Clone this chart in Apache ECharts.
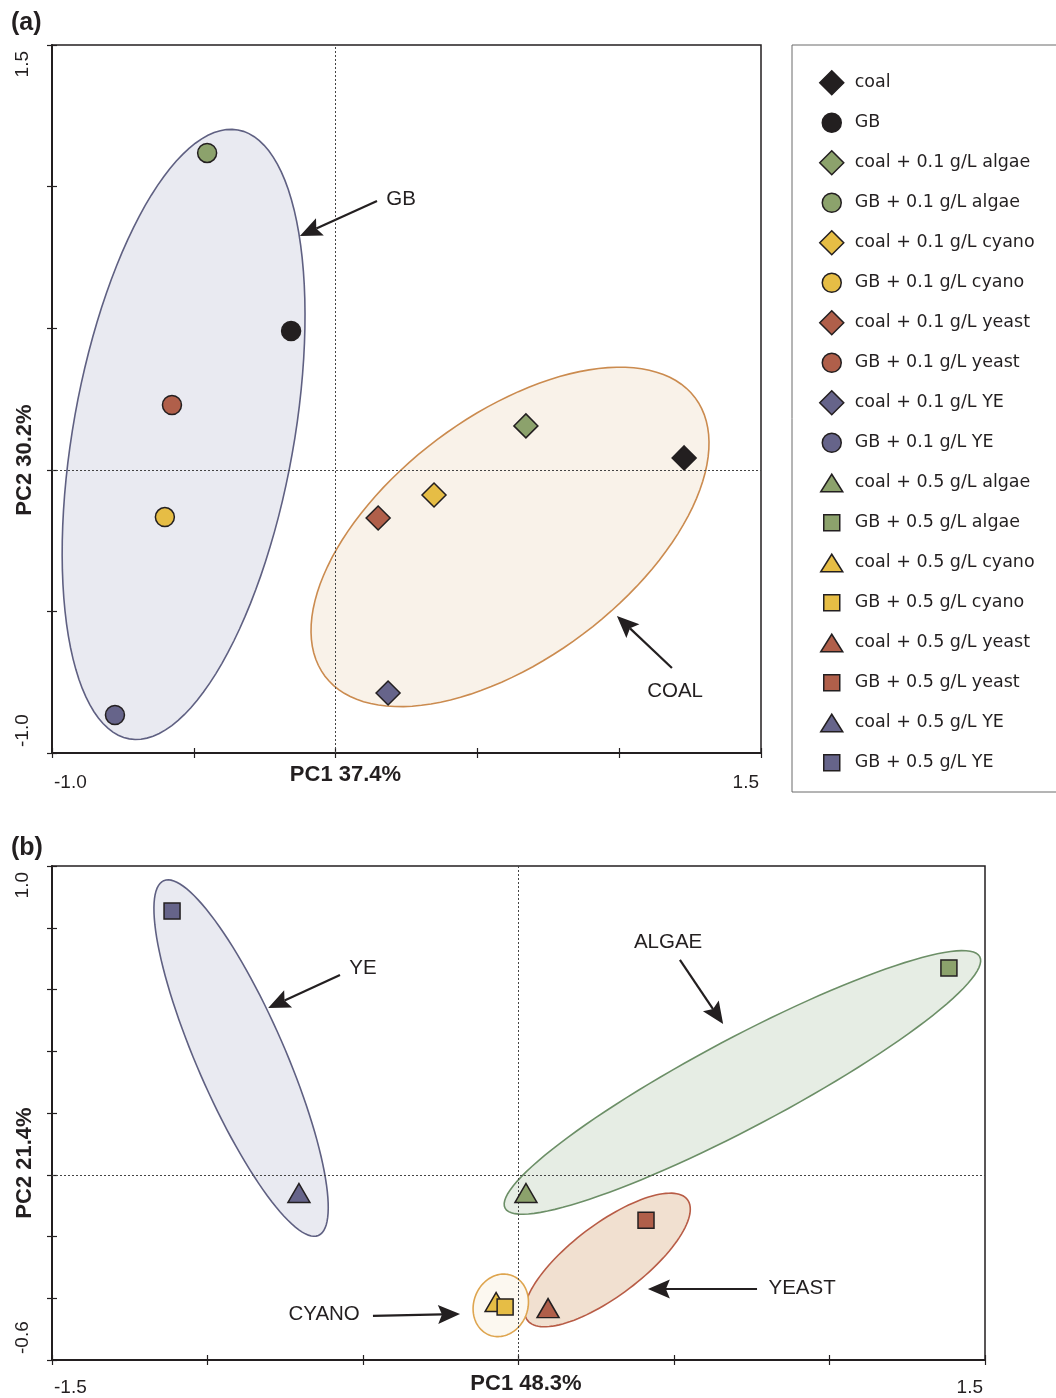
<!DOCTYPE html>
<html><head><meta charset="utf-8">
<script src="https://cdn.jsdelivr.net/npm/echarts@6/dist/echarts.min.js"></script>
<style>html,body{margin:0;padding:0;background:#fff}#c{width:1056px;height:1398px}</style>
</head><body><div id="c"></div>
<script>
// ---------------- DATA ----------------
// Panel (a): 0.1 g/L amendments
const seriesNamesA = ['coal','GB','coal + 0.1 g/L algae','GB + 0.1 g/L algae','coal + 0.1 g/L cyano','GB + 0.1 g/L cyano','coal + 0.1 g/L yeast','GB + 0.1 g/L yeast','coal + 0.1 g/L YE','GB + 0.1 g/L YE'];
const pc1A = [1.229, -0.157, 0.671, -0.453, 0.347, -0.602, 0.150, -0.577, 0.185, -0.778];
const pc2A = [0.042, 0.490, 0.155, 1.119, -0.089, -0.167, -0.170, 0.229, -0.788, -0.866];
// Panel (b): 0.5 g/L amendments
const seriesNamesB = ['coal + 0.5 g/L algae','GB + 0.5 g/L algae','coal + 0.5 g/L cyano','GB + 0.5 g/L cyano','coal + 0.5 g/L yeast','GB + 0.5 g/L yeast','coal + 0.5 g/L YE','GB + 0.5 g/L YE'];
const pc1B = [0.024, 1.384, -0.072, -0.043, 0.095, 0.410, -0.706, -1.114];
const pc2B = [-0.059, 0.670, -0.412, -0.428, -0.432, -0.147, -0.059, 0.854];
// legend order
const legendOrder = ['coal','GB','coal + 0.1 g/L algae','GB + 0.1 g/L algae','coal + 0.1 g/L cyano','GB + 0.1 g/L cyano','coal + 0.1 g/L yeast','GB + 0.1 g/L yeast','coal + 0.1 g/L YE','GB + 0.1 g/L YE','coal + 0.5 g/L algae','GB + 0.5 g/L algae','coal + 0.5 g/L cyano','GB + 0.5 g/L cyano','coal + 0.5 g/L yeast','GB + 0.5 g/L yeast','coal + 0.5 g/L YE','GB + 0.5 g/L YE'];
// axis ticks / labels
const xTicksA = ['-1.0','','','','','1.5'];
const yTicksA = ['-1.0','','','','','1.5'];
const xTicksB = ['-1.5','','','','','','1.5'];
const yTicksB = ['-0.6','','','','','','','','1.0'];
const axisTitlesA = ['PC1 37.4%','PC2 30.2%'];
const axisTitlesB = ['PC1 48.3%','PC2 21.4%'];
// group ellipses (data units): name, centre x, centre y, semi-axis a, semi-axis b, angle (deg)
const ellNamesA = ['GB','COAL'];
const ellCxA = [-0.536, 0.615];
const ellCyA = [0.125, -0.237];
const ellAA = [1.092, 0.817];
const ellBA = [0.389, 0.429];
const ellAngA = [79.9, 37.0];
const ellNamesB = ['YE','ALGAE','YEAST','CYANO'];
const ellCxB = [-0.892, 0.720, 0.286, -0.057];
const ellCyB = [0.378, 0.299, -0.276, -0.423];
const ellAB = [0.626, 0.865, 0.323, 0.103];
const ellBB = [0.141, 0.1445, 0.116, 0.087];
const ellAngB = [113.4, 28.1, 37.3, 70];
// annotation labels and arrows (data units)
const annTextA = ['GB','COAL'];
const annXA = [0.231, 1.197];
const annYA = [0.956, -0.781];
const arrA = [[0.146, 0.949, -0.126, 0.826], [1.186, -0.700, 0.992, -0.516]];
const annTextB = ['YE','ALGAE','YEAST','CYANO'];
const annXB = [-0.500, 0.481, 0.912, -0.625];
const annYB = [0.670, 0.754, -0.367, -0.451];
const arrB = [[-0.574, 0.647, -0.805, 0.540], [0.519, 0.696, 0.658, 0.488], [0.767, -0.370, 0.416, -0.370], [-0.468, -0.457, -0.188, -0.451]];

// ---------------- STYLE ----------------
const INK = '#231f20';
function colorOf(n) {
  if (n.indexOf('algae') >= 0) return '#8ca26c';
  if (n.indexOf('cyano') >= 0) return '#e6bd45';
  if (n.indexOf('yeast') >= 0) return '#b05f4a';
  if (/YE$/.test(n)) return '#66648a';
  return INK;
}
function symbolOf(n) {
  const half = n.indexOf('0.5') >= 0;
  const coal = n.indexOf('coal') === 0;
  if (half) return coal ? {symbol: 'triangle', size: [22, 19]} : {symbol: 'rect', size: 16};
  return coal ? {symbol: 'diamond', size: 24} : {symbol: 'circle', size: 19};
}
function legendIcon(n) {
  const half = n.indexOf('0.5') >= 0;
  const coal = n.indexOf('coal') === 0;
  const box = 'path://M0,0M30,24';
  if (half) return coal ? box + 'M12,3.5L23,21L1,21Z' : box + 'M4,4L20,4L20,20L4,20Z';
  return coal ? box + 'M12,0L24,12L12,24L0,12Z' : box + 'M2.5,12A9.5,9.5 0 1 1 21.5,12A9.5,9.5 0 1 1 2.5,12Z';
}
const ellStyle = {
  GB: {fill: '#e9eaf1', stroke: '#5f6082'},
  COAL: {fill: '#f9f2e9', stroke: '#cb8b4f'},
  YE: {fill: '#e9eaf1', stroke: '#5f6082'},
  ALGAE: {fill: '#e6ede4', stroke: '#6c8f67'},
  YEAST: {fill: '#f1e0d0', stroke: '#b85c46'},
  CYANO: {fill: '#fcf8f0', stroke: '#dea54f'}
};
const FONT = '"Liberation Sans", Arial, sans-serif';

// ---------------- BUILD ----------------
function scatter(name, x, y, gi) {
  const s = symbolOf(name);
  return {type: 'scatter', name, xAxisIndex: gi * 2, yAxisIndex: gi * 2, data: [[x, y]],
    symbol: s.symbol, symbolSize: s.size, z: 5, silent: true, animation: false,
    itemStyle: {color: colorOf(name), borderColor: INK, borderWidth: 1.5, opacity: 1}};
}
function ellipseSeries(gi, names, cx, cy, a, b, ang) {
  return {type: 'custom', xAxisIndex: gi * 2, yAxisIndex: gi * 2, z: 1, silent: true, animation: false,
    data: cx.map((c, i) => [c, cy[i], a[i], b[i], ang[i]]),
    encode: {x: 0, y: 1},
    renderItem(params, api) {
      const X = api.value(0), Y = api.value(1), A = api.value(2), B = api.value(3), t0 = api.value(4) * Math.PI / 180;
      const pts = [];
      for (let k = 0; k < 120; k++) {
        const t = k / 120 * 2 * Math.PI;
        const dx = A * Math.cos(t), dy = B * Math.sin(t);
        pts.push(api.coord([X + dx * Math.cos(t0) - dy * Math.sin(t0), Y + dx * Math.sin(t0) + dy * Math.cos(t0)]));
      }
      const st = ellStyle[names[params.dataIndex]];
      return {type: 'polygon', shape: {points: pts}, style: {fill: st.fill, stroke: st.stroke, lineWidth: 1.6}};
    }};
}
function arrowSeries(gi, arr) {
  return {type: 'custom', xAxisIndex: gi * 2, yAxisIndex: gi * 2, z: 6, silent: true, animation: false,
    data: arr, encode: {x: [0, 2], y: [1, 3]},
    renderItem(params, api) {
      const p1 = api.coord([api.value(0), api.value(1)]), p2 = api.coord([api.value(2), api.value(3)]);
      const dx = p2[0] - p1[0], dy = p2[1] - p1[1], L = Math.hypot(dx, dy), ux = dx / L, uy = dy / L;
      const hl = 22, hw = 9.5;
      const bx = p2[0] - ux * hl, by = p2[1] - uy * hl;
      const nx = p2[0] - ux * hl * 0.82, ny = p2[1] - uy * hl * 0.82;
      return {type: 'group', children: [
        {type: 'line', shape: {x1: p1[0], y1: p1[1], x2: nx, y2: ny}, style: {stroke: INK, lineWidth: 2.2}},
        {type: 'polygon', shape: {points: [p2, [bx - uy * hw, by + ux * hw], [nx, ny], [bx + uy * hw, by - ux * hw]]}, style: {fill: INK}}
      ]};
    }};
}
function textSeries(gi, xs, ys, texts) {
  return {type: 'custom', xAxisIndex: gi * 2, yAxisIndex: gi * 2, z: 6, silent: true, animation: false,
    data: xs.map((x, i) => [x, ys[i]]), encode: {x: 0, y: 1},
    renderItem(params, api) {
      const p = api.coord([api.value(0), api.value(1)]);
      return {type: 'text', x: p[0], y: p[1], style: {text: texts[params.dataIndex], font: '20.5px ' + FONT, fill: INK, align: 'center', verticalAlign: 'middle'}};
    }};
}
function zeroLines(gi) {
  return {type: 'scatter', xAxisIndex: gi * 2, yAxisIndex: gi * 2, data: [], z: 3, silent: true, animation: false,
    markLine: {silent: true, animation: false, symbol: ['none', 'none'], label: {show: false},
      lineStyle: {color: '#444', width: 1, type: [2, 2]},
      emphasis: {disabled: true},
      data: [{xAxis: 0}, {yAxis: 0}]}};
}
function fmt(labels, min, interval) {
  return v => { const i = Math.round((v - min) / interval); return labels[i] || ''; };
}
function xMain(gi, min, max, interval, labels, title, pad, gap, margin) {
  return {type: 'value', gridIndex: gi, min, max, interval, position: 'bottom',
    axisLine: {show: true, onZero: false, lineStyle: {color: INK, width: 2}},
    axisTick: {show: true, inside: false, length: 5, lineStyle: {color: INK, width: 1.2}},
    splitLine: {show: false},
    axisLabel: {show: true, margin, formatter: fmt(labels, min, interval), color: INK, fontFamily: FONT, fontSize: 19,
      padding: [0, 2, 0, 2],
      alignMinLabel: 'left', alignMaxLabel: 'right', showMinLabel: true, showMaxLabel: true, hideOverlap: false},
    name: title, nameLocation: 'middle', nameGap: gap, nameMoveOverlap: false,
    nameTextStyle: {color: INK, fontFamily: FONT, fontSize: 22, fontWeight: 'bold', padding: pad}};
}
function yMain(gi, min, max, interval, labels, title, pad, gap, margin) {
  return {type: 'value', gridIndex: gi, min, max, interval, position: 'left',
    axisLine: {show: true, onZero: false, lineStyle: {color: INK, width: 2}},
    axisTick: {show: true, inside: false, length: 5, lineStyle: {color: INK, width: 1.2}},
    splitLine: {show: false},
    axisLabel: {show: true, margin, rotate: 90, formatter: fmt(labels, min, interval), color: INK, fontFamily: FONT, fontSize: 19,
      padding: [0, 6, 0, 6],
      alignMinLabel: 'left', alignMaxLabel: 'right', showMinLabel: true, showMaxLabel: true, hideOverlap: false},
    name: title, nameLocation: 'middle', nameGap: gap, nameRotate: 90, nameMoveOverlap: false,
    nameTextStyle: {color: INK, fontFamily: FONT, fontSize: 22, fontWeight: 'bold', padding: pad}};
}
function inner(gi, min, max, interval, pos) {
  return {type: 'value', gridIndex: gi, min, max, interval, position: pos,
    axisLine: {show: false, onZero: false}, axisLabel: {show: false}, splitLine: {show: false},
    axisTick: {show: true, inside: true, length: 5, lineStyle: {color: INK, width: 1.2}}};
}

const series = [];
series.push(ellipseSeries(0, ellNamesA, ellCxA, ellCyA, ellAA, ellBA, ellAngA));
series.push(ellipseSeries(1, ellNamesB, ellCxB, ellCyB, ellAB, ellBB, ellAngB));
series.push(zeroLines(0));
series.push(zeroLines(1));
seriesNamesA.forEach((n, i) => series.push(scatter(n, pc1A[i], pc2A[i], 0)));
seriesNamesB.forEach((n, i) => series.push(scatter(n, pc1B[i], pc2B[i], 1)));
series.push(arrowSeries(0, arrA));
series.push(arrowSeries(1, arrB));
series.push(textSeries(0, annXA, annYA, annTextA));
series.push(textSeries(1, annXB, annYB, annTextB));

const option = {
  animation: false,
  backgroundColor: '#fff',
  grid: [
    {left: 52, top: 45, width: 709, height: 708, show: true, borderColor: INK, borderWidth: 1.5, backgroundColor: 'transparent', containLabel: false, outerBoundsMode: 'none'},
    {left: 52, top: 866, width: 933, height: 494, show: true, borderColor: INK, borderWidth: 1.5, backgroundColor: 'transparent', containLabel: false, outerBoundsMode: 'none'}
  ],
  xAxis: [
    xMain(0, -1, 1.5, 0.5, xTicksA, axisTitlesA[0], [0, 122, 0, 0], 11, 20),
    inner(0, -1, 1.5, 0.5, 'bottom'),
    xMain(1, -1.5, 1.5, 0.5, xTicksB, axisTitlesB[0], [0, 0, 0, 15], 13, 18),
    inner(1, -1.5, 1.5, 0.5, 'bottom')
  ],
  yAxis: [
    yMain(0, -1, 1.5, 0.5, yTicksA, axisTitlesA[1], [0, 122, 0, 0], 16, 20),
    inner(0, -1, 1.5, 0.5, 'left'),
    yMain(1, -0.6, 1.0, 0.2, yTicksB, axisTitlesB[1], [0, 100, 0, 0], 16, 20),
    inner(1, -0.6, 1.0, 0.2, 'left')
  ],
  legend: {
    show: true, orient: 'vertical', left: 792, top: 45,
    padding: [25, 80, 16.5, 27], itemGap: 14.5, itemWidth: 30, itemHeight: 24,
    borderColor: '#6b6b6b', borderWidth: 1, backgroundColor: '#fff',
    selectedMode: false,
    textStyle: {color: INK, fontFamily: '"DejaVu Sans", sans-serif', fontSize: 17.5, lineHeight: 20},
    data: legendOrder.map(n => ({name: n, icon: legendIcon(n),
      itemStyle: {color: colorOf(n), borderColor: INK, borderWidth: 1.5}}))
  },
  graphic: [
    {type: 'text', left: 11, top: 11, style: {text: '(a)', font: 'bold 25px ' + FONT, fill: INK}},
    {type: 'text', left: 11, top: 836, style: {text: '(b)', font: 'bold 25px ' + FONT, fill: INK}}
  ],
  series
};
const chart = echarts.init(document.getElementById('c'), null, {renderer: 'canvas'});
chart.setOption(option);
</script></body></html>
